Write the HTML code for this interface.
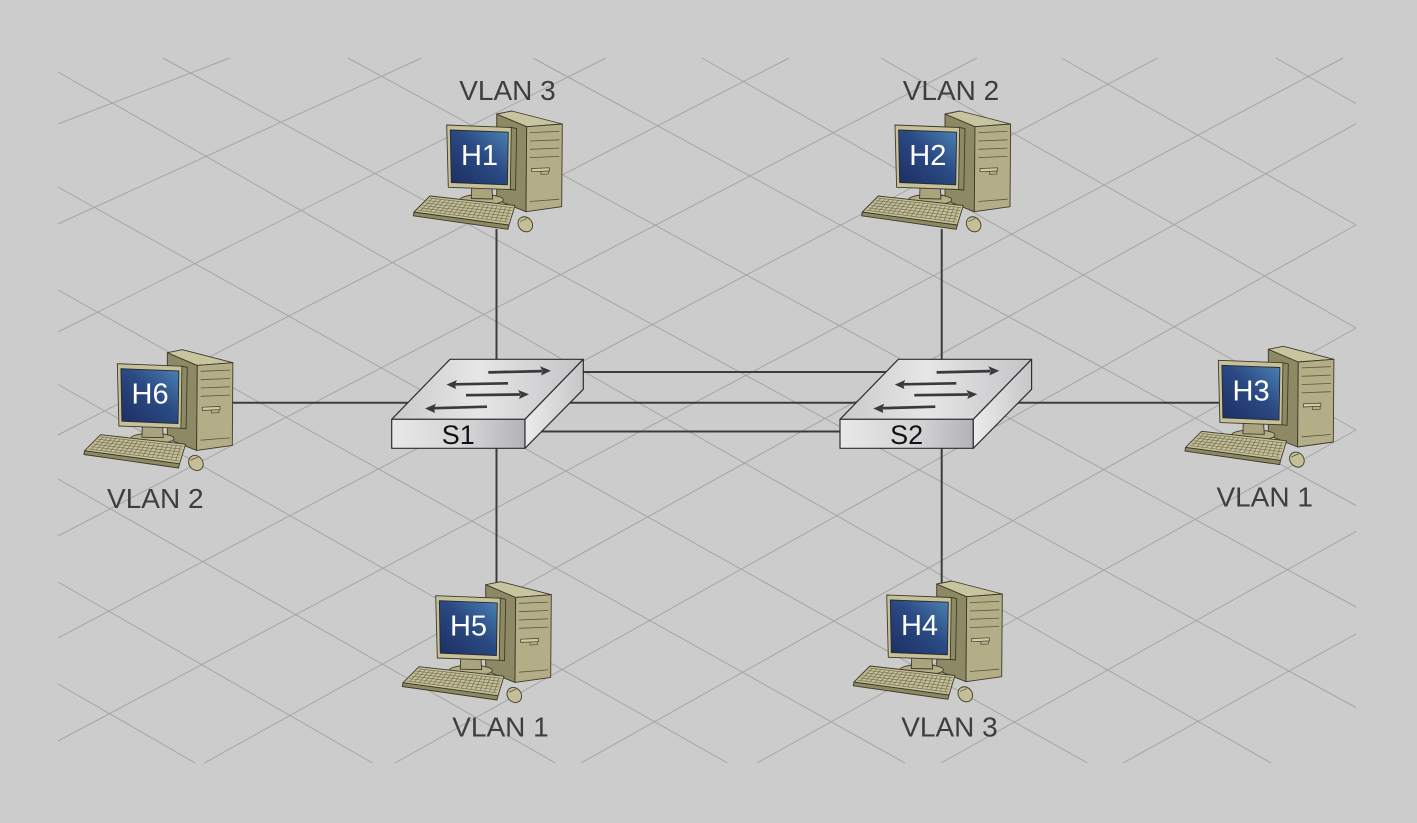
<!DOCTYPE html>
<html>
<head>
<meta charset="utf-8">
<style>
  html, body { margin: 0; padding: 0; background: #cccccc; }
  svg { display: block; }
  .lbl { font-family: "Liberation Sans", Arial, sans-serif; font-size: 28px; fill: #3e3e3e; text-anchor: middle; }
  .scr { font-family: "Liberation Sans", Arial, sans-serif; font-size: 29px; fill: #ffffff; text-anchor: middle; }
  .sw { font-family: "Liberation Sans", Arial, sans-serif; font-size: 27px; fill: #111111; text-anchor: middle; }
</style>
</head>
<body>
<svg width="1417" height="823" viewBox="0 0 1417 823" xmlns="http://www.w3.org/2000/svg">
  <defs>
    <linearGradient id="scrg" x1="0" y1="1" x2="1" y2="0">
      <stop offset="0" stop-color="#1c2e62"/>
      <stop offset="0.55" stop-color="#2b4a84"/>
      <stop offset="1" stop-color="#4b82b3"/>
    </linearGradient>
    <linearGradient id="topg" x1="0" y1="0" x2="1" y2="0">
      <stop offset="0" stop-color="#c9c9c9"/>
      <stop offset="0.45" stop-color="#e6e6e6"/>
      <stop offset="1" stop-color="#c4c4c8"/>
    </linearGradient>
    <linearGradient id="frontg" x1="0" y1="0" x2="1" y2="0">
      <stop offset="0" stop-color="#e8e8e8"/>
      <stop offset="0.6" stop-color="#d2d2d4"/>
      <stop offset="1" stop-color="#b2b2b8"/>
    </linearGradient>
    <linearGradient id="rightg" x1="0" y1="0" x2="1" y2="0">
      <stop offset="0" stop-color="#ececec"/>
      <stop offset="1" stop-color="#c6c6c8"/>
    </linearGradient>

    <g id="pc" stroke="#3d3a28" stroke-width="0.9" stroke-linejoin="round">
      <!-- tower -->
      <polygon points="496.7,114 526.7,126.7 526,211.7 496.7,200" fill="#8d8965"/>
      <polygon points="496.7,114 511.7,111 562.3,124 526.7,126.7" fill="#c9c4a0"/>
      <polygon points="526.7,126.7 562.3,124 561.7,206.7 526,211.7" fill="#b3ae87"/>
      <g fill="none" stroke="#5a5740" stroke-width="0.8">
        <line x1="530" y1="132.6" x2="559.3" y2="131.4"/>
        <line x1="530" y1="141" x2="559.3" y2="139.8"/>
        <line x1="530" y1="149.3" x2="559.3" y2="148.1"/>
        <line x1="530" y1="157.6" x2="559.3" y2="156.4"/>
        <line x1="530" y1="201.5" x2="559.3" y2="199.2"/>
      </g>
      <polygon points="531.7,168.5 549.3,167.8 549.3,171 531.7,171.7" fill="#d0cba6" stroke-width="0.7"/>
      <polygon points="541,171.3 548.5,171 548.5,174 541,174.3" fill="#b3ae87" stroke-width="0.6"/>
      <!-- monitor -->
      <ellipse cx="481.7" cy="199.8" rx="21.7" ry="5.3" fill="#b3ae87"/>
      <polygon points="471.7,187.5 492,188.2 492.7,199 471.3,198.5" fill="#a9a47e"/>
      <polygon points="510.5,127.3 516.7,128.6 515.5,190 509.6,189.5" fill="#8d8965"/>
      <polygon points="446.7,125 511.3,127.5 510.3,189.5 448.3,187.3" fill="#c6c19b"/>
      <polygon points="450.3,130 508.3,132.2 507.4,184.8 451.3,182.5" fill="url(#scrg)" stroke="#2a2a2a"/>
      <!-- keyboard -->
      <polygon points="414,212 509,225 508,229.3 413.3,215.8" fill="#8d8965"/>
      <polygon points="430,196 515,205.5 509,225 414,212" fill="#c4bf99"/>
      <g fill="none" stroke="#6e6a4e" stroke-width="0.6">
        <line x1="429.8" y1="198.1" x2="512.6" y2="207.6"/>
        <line x1="427.4" y1="200.5" x2="511.6" y2="210.6"/>
        <line x1="425.1" y1="202.9" x2="510.7" y2="213.5"/>
        <line x1="422.7" y1="205.4" x2="509.8" y2="216.4"/>
        <line x1="420.3" y1="207.8" x2="508.8" y2="219.3"/>
        <line x1="418.0" y1="210.2" x2="507.9" y2="222.2"/>
        <line x1="432.4" y1="198.4" x2="420.8" y2="210.5"/>
        <line x1="436.7" y1="198.9" x2="425.5" y2="211.2"/>
        <line x1="441.0" y1="199.4" x2="430.1" y2="211.8"/>
        <line x1="445.3" y1="199.9" x2="434.8" y2="212.4"/>
        <line x1="449.6" y1="200.4" x2="439.5" y2="213.1"/>
        <line x1="453.9" y1="200.9" x2="444.2" y2="213.7"/>
        <line x1="458.3" y1="201.4" x2="448.9" y2="214.3"/>
        <line x1="462.6" y1="201.9" x2="453.6" y2="215.0"/>
        <line x1="466.9" y1="202.4" x2="458.2" y2="215.6"/>
        <line x1="471.2" y1="202.9" x2="462.9" y2="216.2"/>
        <line x1="475.5" y1="203.4" x2="467.6" y2="216.8"/>
        <line x1="479.8" y1="203.9" x2="472.3" y2="217.5"/>
        <line x1="484.1" y1="204.4" x2="477.0" y2="218.1"/>
        <line x1="488.4" y1="204.9" x2="481.7" y2="218.7"/>
        <line x1="492.7" y1="205.4" x2="486.4" y2="219.3"/>
        <line x1="497.0" y1="205.9" x2="491.0" y2="220.0"/>
        <line x1="501.4" y1="206.4" x2="495.7" y2="220.6"/>
        <line x1="505.7" y1="206.9" x2="500.4" y2="221.2"/>
        <line x1="510.0" y1="207.4" x2="505.1" y2="221.8"/>
      </g>
      <!-- mouse -->
      <ellipse cx="525.3" cy="224.3" rx="6.8" ry="8" transform="rotate(-40 525.3 224.3)" fill="#c4bf99"/>
      <line x1="520" y1="221.5" x2="527" y2="218.5" stroke-width="0.6"/>
    </g>

    <g id="switch">
      <polygon points="391.7,419.3 450,359.3 583.3,359.3 525,419.3" fill="url(#topg)" stroke="#2e2e2e" stroke-width="1.2" stroke-linejoin="round"/>
      <polygon points="391.7,419.3 525,419.3 525,448.3 391.7,448.3" fill="url(#frontg)" stroke="#2e2e2e" stroke-width="1.2" stroke-linejoin="round"/>
      <polygon points="525,419.3 583.3,359.3 583.3,389.3 525,448.3" fill="url(#rightg)" stroke="#2e2e2e" stroke-width="1.2" stroke-linejoin="round"/>
      <g stroke="#3a3a3a" stroke-width="2.7" fill="none">
        <line x1="488.3" y1="372.4" x2="542" y2="371.1"/>
        <line x1="508" y1="383.3" x2="455" y2="384.3"/>
        <line x1="466" y1="395.2" x2="520" y2="394.5"/>
        <line x1="487" y1="406.7" x2="434" y2="408.2"/>
      </g>
      <g fill="#3a3a3a">
        <polygon points="551,370.7 540,366.3 542.5,371 541,375.5"/>
        <polygon points="446.5,384.6 457,380 455,384.4 456,389"/>
        <polygon points="529,394.3 518,390 520.5,394.5 519,399"/>
        <polygon points="425,408.5 436,403.8 434,408.3 435,413"/>
      </g>
    </g>
  </defs>

  <rect x="0" y="0" width="1417" height="823" fill="#cccccc"/>

  <!-- grid -->
  <g stroke="#a5a5a5" stroke-width="1" fill="none">
    <line x1="58" y1="684" x2="195.4" y2="763"/>
    <line x1="58" y1="582" x2="372.6" y2="763"/>
    <line x1="58" y1="479" x2="555.6" y2="763"/>
    <line x1="58" y1="384.5" x2="727.5" y2="763"/>
    <line x1="58" y1="290" x2="905" y2="763"/>
    <line x1="58" y1="187" x2="1087.5" y2="763"/>
    <line x1="58" y1="72" x2="1271" y2="763"/>
    <line x1="162.8" y1="58" x2="1356" y2="707.5"/>
    <line x1="348" y1="58" x2="1356" y2="607"/>
    <line x1="533" y1="58" x2="1356" y2="505.5"/>
    <line x1="702" y1="58" x2="1356" y2="430"/>
    <line x1="880.8" y1="58" x2="1356" y2="328"/>
    <line x1="1061.6" y1="58" x2="1356" y2="225"/>
    <line x1="1276" y1="58" x2="1356" y2="103.6"/>

    <line x1="58" y1="124" x2="229.7" y2="58"/>
    <line x1="58" y1="224" x2="421.7" y2="58"/>
    <line x1="58" y1="332" x2="606" y2="58"/>
    <line x1="58" y1="435" x2="789" y2="58"/>
    <line x1="58" y1="536" x2="976.8" y2="58"/>
    <line x1="58" y1="638" x2="1157.6" y2="58"/>
    <line x1="58" y1="741" x2="1343" y2="58"/>
    <line x1="204.3" y1="763" x2="1356" y2="123.7"/>
    <line x1="395" y1="763" x2="1356" y2="225"/>
    <line x1="581" y1="763" x2="1356" y2="328"/>
    <line x1="757" y1="763" x2="1356" y2="430"/>
    <line x1="941" y1="763" x2="1356" y2="531.4"/>
    <line x1="1123" y1="763" x2="1356" y2="634"/>
  </g>

  <!-- connections -->
  <g stroke="#3c3c3c" stroke-width="2" fill="none">
    <line x1="496.5" y1="229" x2="496.5" y2="590"/>
    <line x1="941.7" y1="229" x2="941.7" y2="590"/>
    <line x1="230" y1="402.7" x2="450" y2="402.7"/>
    <line x1="560" y1="372" x2="900" y2="372"/>
    <line x1="560" y1="402.7" x2="900" y2="402.7"/>
    <line x1="530" y1="431.5" x2="860" y2="431.5"/>
    <line x1="1000" y1="402.7" x2="1225" y2="402.7"/>
  </g>

  <!-- switches -->
  <use href="#switch"/>
  <use href="#switch" transform="translate(448.3,0)"/>
  <text class="sw" x="458.3" y="444">S1</text>
  <text class="sw" x="906.6" y="444">S2</text>

  <!-- computers -->
  <use href="#pc"/>
  <use href="#pc" transform="translate(448.3,0)"/>
  <use href="#pc" transform="translate(-329.4,238.7)"/>
  <use href="#pc" transform="translate(771.6,235.3)"/>
  <use href="#pc" transform="translate(-11,470.7)"/>
  <use href="#pc" transform="translate(440,470)"/>

  <text class="scr" x="479.5" y="165">H1</text>
  <text class="scr" x="927.8" y="165">H2</text>
  <text class="scr" x="150.1" y="403.7">H6</text>
  <text class="scr" x="1251.1" y="400.3">H3</text>
  <text class="scr" x="468.5" y="635.7">H5</text>
  <text class="scr" x="919.5" y="635">H4</text>

  <!-- VLAN labels -->
  <text class="lbl" x="507.5" y="100">VLAN 3</text>
  <text class="lbl" x="951" y="100">VLAN 2</text>
  <text class="lbl" x="155.3" y="508">VLAN 2</text>
  <text class="lbl" x="1264.7" y="506.5">VLAN 1</text>
  <text class="lbl" x="500.5" y="736.7">VLAN 1</text>
  <text class="lbl" x="949.5" y="736.7">VLAN 3</text>
</svg>
</body>
</html>
